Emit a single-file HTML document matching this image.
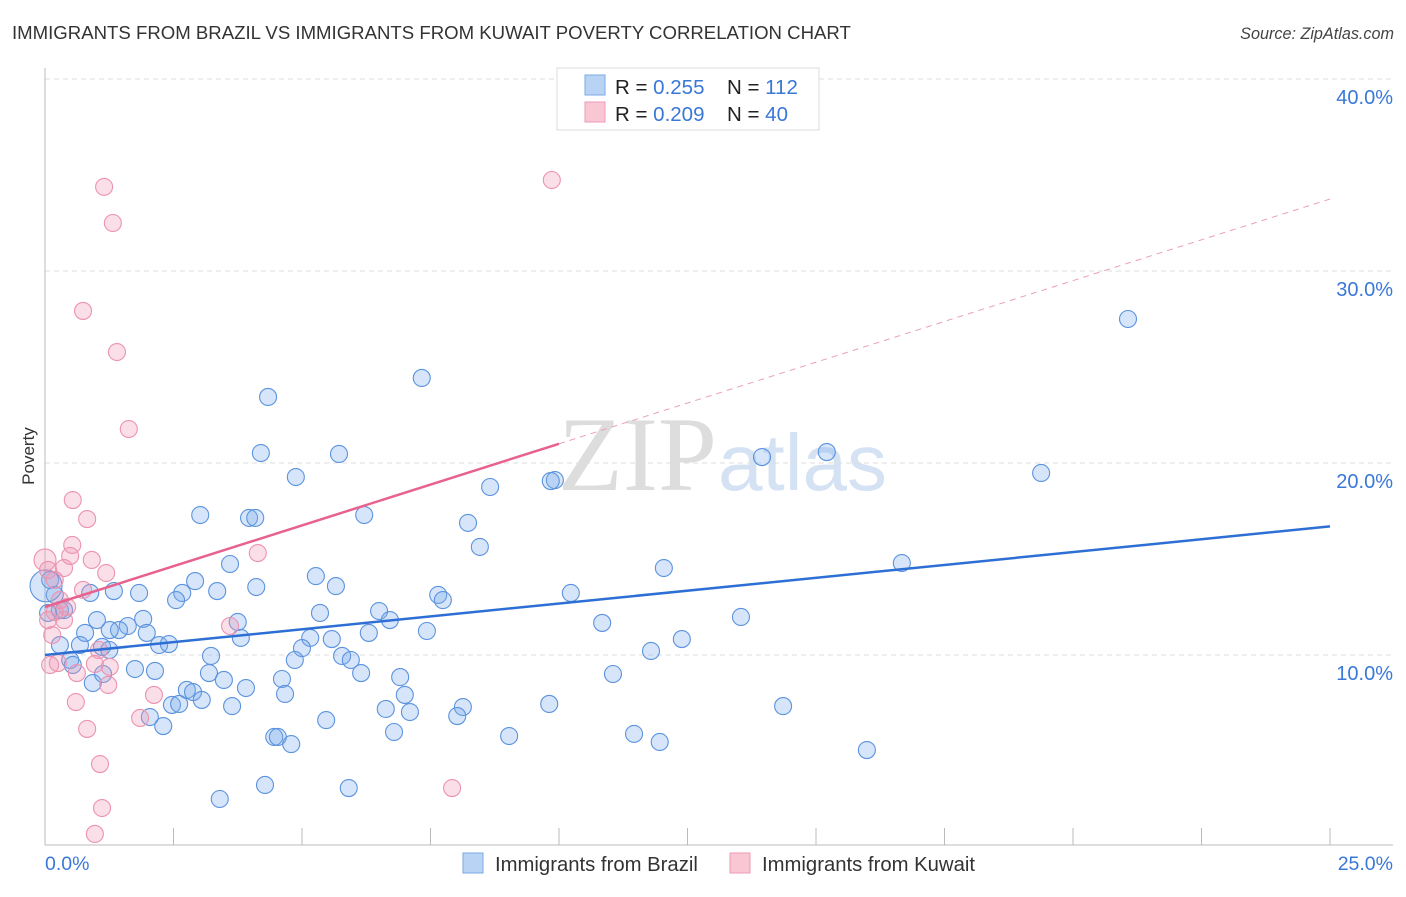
<!DOCTYPE html>
<html><head><meta charset="utf-8"><style>
body{margin:0;background:#fff;font-family:"Liberation Sans",sans-serif}
</style></head><body>
<svg id="c" width="1406" height="892" xmlns="http://www.w3.org/2000/svg" style="font-family:'Liberation Sans',sans-serif">
<text x="12" y="39" font-size="18.6" fill="#333">IMMIGRANTS FROM BRAZIL VS IMMIGRANTS FROM KUWAIT POVERTY CORRELATION CHART</text>
<text x="1394" y="39" font-size="16.2" fill="#444" font-style="italic" text-anchor="end">Source: ZipAtlas.com</text>
<g>
<text x="558" y="490" font-size="106" fill="#ddd" font-family="Liberation Serif">ZIP</text>
<text x="718" y="490" font-size="80" fill="#d4e2f4">atlas</text>
</g>
<g id="grid"></g>
<line x1="45" y1="68" x2="45" y2="845" stroke="#bbb"/>
<line x1="45" y1="845" x2="1393" y2="845" stroke="#bbb"/>
<g id="ticks"></g>
<text x="34" y="456" font-size="17" fill="#333" text-anchor="middle" transform="rotate(-90 34 456)">Poverty</text>
<text x="45" y="870" font-size="19.5" fill="#3a78d8">0.0%</text>
<text x="1393" y="870" font-size="19.5" fill="#3a78d8" text-anchor="end">25.0%</text>
<g id="pts"></g>
<g id="lines"></g>
<g>
<rect x="557" y="68" width="262" height="62" fill="#fff" stroke="#ddd"/>
<rect x="585" y="75" width="20" height="20" fill="#b9d3f5" stroke="#7aa8e6"/>
<rect x="585" y="102" width="20" height="20" fill="#f9c6d4" stroke="#ee9ab4"/>
<text x="615" y="94" font-size="20.5" fill="#222">R = <tspan fill="#3a78d8">0.255</tspan><tspan x="727">N = </tspan><tspan fill="#3a78d8">112</tspan></text>
<text x="615" y="121" font-size="20.5" fill="#222">R = <tspan fill="#3a78d8">0.209</tspan><tspan x="727">N = </tspan><tspan fill="#3a78d8">40</tspan></text>
</g>
<g>
<rect x="463" y="853" width="20" height="20" fill="#b9d3f5" stroke="#7aa8e6"/>
<text x="495" y="871" font-size="20.3" fill="#333">Immigrants from Brazil</text>
<rect x="730" y="853" width="20" height="20" fill="#f9c6d4" stroke="#ee9ab4"/>
<text x="762" y="871" font-size="20.3" fill="#333">Immigrants from Kuwait</text>
</g>
</svg>
<script>
const yTicks=[10,20,30,40];
const yTickLabels=["10.0%","20.0%","30.0%","40.0%"];
const blueX=[21.07,7.33,4.34,4.20,5.72,4.88,9.92,9.84,15.21,13.95,19.38,8.66,3.02,3.97,4.09,6.21,8.23,8.46,3.60,12.04,16.67,5.27,5.66,2.92,4.11,2.67,3.35,2.55,1.34,1.83,0.88,10.23,7.65,7.74,6.50,6.71,5.35,3.75,1.01,1.91,1.61,1.44,1.26,0.78,1.98,10.84,13.54,7.43,6.30,5.16,5.58,12.39,0.68,1.11,1.25,2.22,2.41,5.00,3.81,3.23,5.78,5.95,4.86,11.79,0.49,0.54,1.75,2.14,3.19,3.48,4.61,6.15,6.91,11.05,0.93,1.13,2.76,2.88,3.91,4.67,7.00,3.05,3.64,2.47,2.61,6.63,7.10,8.13,8.02,9.81,14.36,2.04,2.30,5.47,6.79,4.46,4.53,4.79,9.03,11.46,11.96,15.99,4.28,5.91,3.40,0.29,0.19,0.29,0.37,0.10,0.06,0.02];
const blueY=[27.5,24.43,23.44,20.52,20.47,19.27,19.11,19.06,20.57,20.31,19.48,18.75,17.29,17.14,17.14,17.29,16.88,15.63,14.74,14.53,14.79,14.11,13.59,13.85,13.54,13.23,13.33,12.86,13.33,13.23,13.23,13.23,13.13,12.86,12.29,11.82,12.19,11.72,11.82,11.88,11.51,11.30,11.30,11.15,11.15,11.67,11.98,11.25,11.15,10.89,10.83,10.83,10.52,10.42,10.26,10.52,10.57,10.36,10.89,9.95,9.95,9.74,9.74,10.21,9.74,9.48,9.27,9.17,9.06,8.70,8.75,9.06,8.85,9.01,8.54,9.01,8.18,8.07,8.28,7.97,7.92,7.66,7.34,7.40,7.45,7.19,7.03,7.29,6.82,7.45,7.34,6.77,6.30,6.61,5.99,5.73,5.73,5.36,5.78,5.89,5.47,5.05,3.23,3.07,2.50,10.52,13.13,12.34,12.34,13.91,12.19,13.6];
const pinkX=[1.15,9.86,1.32,0.74,1.40,1.63,0.54,0.82,0.53,0.49,4.14,0.91,1.19,0.37,0.74,0.19,0.06,0.29,0.43,0.19,0.37,0.06,0.14,1.05,1.26,0.25,0.62,0.97,1.23,2.12,0.60,1.85,0.82,1.07,1.11,0.97,7.92,3.60,0.0,0.10];
const pinkY=[34.38,34.74,32.5,27.92,25.78,21.77,18.07,17.08,15.73,15.16,15.31,14.95,14.27,14.53,13.39,13.91,14.43,12.86,12.5,12.24,11.82,11.82,11.04,10.26,9.38,9.58,9.06,9.53,8.44,7.92,7.55,6.72,6.15,4.32,2.03,0.68,3.07,11.51,14.95,9.48];
const blueTrend=[10.0,16.7];
const pinkTrend=[12.5,21.0,33.75];
const X=v=>45+v*51.4, Y=v=>847-v*19.2;
const NS="http://www.w3.org/2000/svg";
function mk(parent,tag,attrs){const e=document.createElementNS(NS,tag);for(const k in attrs)e.setAttribute(k,attrs[k]);document.getElementById(parent).appendChild(e);return e;}
yTicks.forEach((t,i)=>{
 const l=mk('grid','line',{x1:45,x2:1393,y1:Y(t),y2:Y(t),stroke:'#ddd','stroke-dasharray':'5,4'});
 
 
 const tx=mk('grid','text',{x:1393,y:Y(t)+25,'font-size':20,fill:'#3a78d8','text-anchor':'end'});
 tx.textContent=yTickLabels[i];
 
 
});
for(let k=1;k<=10;k++){
 const l=mk('ticks','line',{x1:X(k*2.5),x2:X(k*2.5),y1:828,y2:845,stroke:'#bbb'});
 
 
}
blueX.forEach((x,i)=>{
 const c=mk('pts','circle',{cx:X(x),cy:Y(blueY[i]),r:(i===blueX.length-1?16:8.5),fill:'rgba(120,170,235,0.3)',stroke:'#5b93de','stroke-width':1.1});
 
 
});
pinkX.forEach((x,i)=>{
 const c=mk('pts','circle',{cx:X(x),cy:Y(pinkY[i]),r:(i===pinkX.length-2?11:8.5),fill:'rgba(240,150,180,0.3)',stroke:'#ec93b0','stroke-width':1.1});
 
 
});
let l=mk('lines','line',{x1:X(0),y1:Y(blueTrend[0]),x2:X(25),y2:Y(blueTrend[1]),stroke:'#2e6fd6','stroke-width':2.5});


l=mk('lines','line',{x1:X(0),y1:Y(pinkTrend[0]),x2:X(10),y2:Y(pinkTrend[1]),stroke:'#e8628e','stroke-width':2.5});


l=mk('lines','line',{x1:X(10),y1:Y(pinkTrend[1]),x2:X(25),y2:Y(pinkTrend[2]),stroke:'#eaa0b8','stroke-width':1,'stroke-dasharray':'6,5'});


</script>
</body></html>
